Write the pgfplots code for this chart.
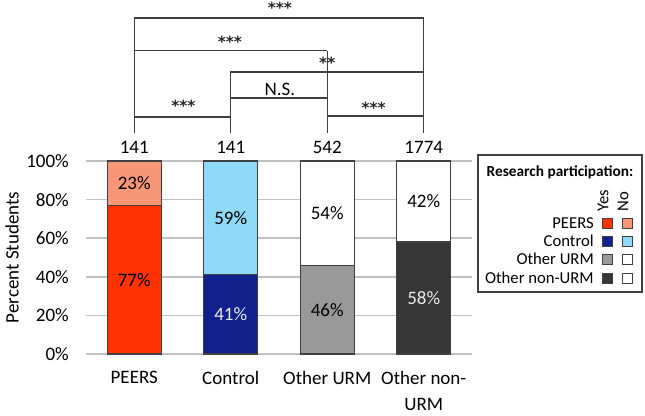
\documentclass[border=0pt]{standalone}
\usepackage{pgfplots}
\pgfplotsset{compat=1.18}
\usepackage{fontspec}
\setmainfont{Carlito}
\newfontfamily\astfont{DejaVu Sans}
\definecolor{peersY}{RGB}{255,51,0}
\definecolor{peersN}{RGB}{248,150,120}
\definecolor{ctrlY}{RGB}{16,32,140}
\definecolor{ctrlN}{RGB}{142,217,247}
\definecolor{urmY}{RGB}{153,153,153}
\definecolor{nonY}{RGB}{54,54,54}
\definecolor{bord}{RGB}{64,64,64}
\definecolor{gridc}{RGB}{191,191,191}
\tikzset{lab/.style={font=\fontsize{14.25}{18}\selectfont}, st/.style={font=\fontsize{11.5}{13}\astfont\bfseries, inner sep=1pt, text=black!85}, br/.style={draw=bord, line width=1.1pt},
 lg/.style={font=\fontsize{12.5}{14}\selectfont}}
\begin{document}
\begin{tikzpicture}
\useasboundingbox (0,0) rectangle (483.75pt,311.25pt);
\begin{axis}[
  at={(64.5pt,45.75pt)}, anchor=south west,
  scale only axis, width=289.5pt, height=144.75pt,
  ybar stacked, bar width=40.5pt,
  xmin=-0.5, xmax=3.5, ymin=0, ymax=100,
  xtick={0,1,2,3},
  xticklabels={PEERS,Control,Other URM,{Other non-\\URM}},
  ytick={0,20,40,60,80,100},
  yticklabel={\pgfmathprintnumber{\tick}\%},
  /pgf/number format/assume math mode=true,
  axis line style={draw=none},
  tick style={draw=none},
  ymajorgrids, major grid style={gridc, line width=1.1pt},
  clip=false,
  ticklabel style={font=\fontsize{14.25}{18}\selectfont},
  yticklabel style={anchor=east, inner sep=0pt, xshift=-12.75pt},
  xticklabel style={anchor=north, inner sep=0pt, yshift=-13pt, align=center, font=\fontsize{14.25}{19.5}\selectfont},
  ylabel={Percent Students},
  every axis y label/.style={at={(rel axis cs:0,0.5)}, xshift=-55.5pt, rotate=90, anchor=center, font=\fontsize{14.25}{18}\selectfont},
]
% Yes
\addplot[draw=bord, line width=0.9pt, fill=peersY] coordinates {(0,77) (1,0) (2,0) (3,0)};
\addplot[draw=bord, line width=0.9pt, fill=ctrlY] coordinates {(0,0) (1,41) (2,0) (3,0)};
\addplot[draw=bord, line width=0.9pt, fill=urmY] coordinates {(0,0) (1,0) (2,46) (3,0)};
\addplot[draw=bord, line width=0.9pt, fill=nonY] coordinates {(0,0) (1,0) (2,0) (3,58)};
% No
\addplot[draw=bord, line width=0.9pt, fill=peersN] coordinates {(0,23) (1,0) (2,0) (3,0)};
\addplot[draw=bord, line width=0.9pt, fill=ctrlN] coordinates {(0,0) (1,59) (2,0) (3,0)};
\addplot[draw=bord, line width=0.9pt, fill=white] coordinates {(0,0) (1,0) (2,54) (3,0)};
\addplot[draw=bord, line width=0.9pt, fill=white] coordinates {(0,0) (1,0) (2,0) (3,42)};
% segment label anchors
\coordinate (pY) at (axis cs:0,38.5);
\coordinate (pN) at (axis cs:0,88.5);
\coordinate (cY) at (axis cs:1,20.5);
\coordinate (cN) at (axis cs:1,70.5);
\coordinate (uY) at (axis cs:2,23);
\coordinate (uN) at (axis cs:2,73);
\coordinate (nY) at (axis cs:3,29);
\coordinate (nN) at (axis cs:3,79);
% sample sizes
\node[lab] at (axis cs:0,107.3) {141};
\node[lab] at (axis cs:1,107.3) {141};
\node[lab] at (axis cs:2,107.3) {542};
\node[lab] at (axis cs:3,107.3) {1774};
% significance brackets
\draw[br] (axis cs:0,114.5) -- (axis cs:0,174.1) -- (axis cs:3,174.1) -- (axis cs:3,114.5);
\draw[br] (axis cs:0,157.2) -- (axis cs:2,157.2);
\draw[br] (axis cs:2,114.5) -- (axis cs:2,157.2);
\draw[br] (axis cs:1,114.5) -- (axis cs:1,146.1) -- (axis cs:3,146.1);
\draw[br] (axis cs:1,132.6) -- (axis cs:2,132.6);
\draw[br] (axis cs:0,122.8) -- (axis cs:1,122.8);
\draw[br] (axis cs:2,123.3) -- (axis cs:3,123.3);
\node[st] at (axis cs:1.51,179.5) {***};
\node[st] at (axis cs:0.99,162) {***};
\node[st] at (axis cs:2.0,151) {**};
\node[lab] at (axis cs:1.51,137.3) {N.S.};
\node[st] at (axis cs:0.51,128.5) {***};
\node[st] at (axis cs:2.48,127.5) {***};
\end{axis}
\node[lab] at (pY) {77\%};
\node[lab] at (pN) {23\%};
\node[lab, text=white!92!black] at (cY) {41\%};
\node[lab] at (cN) {59\%};
\node[lab] at (uY) {46\%};
\node[lab] at (uN) {54\%};
\node[lab, text=white!92!black] at (nY) {58\%};
\node[lab] at (nN) {42\%};
% legend
\draw[bord, line width=0.9pt] (358.5pt,92.25pt) rectangle (481.5pt,195pt);
\node[font=\fontsize{11.5}{13}\selectfont\bfseries] at (420pt,182.25pt) {Research participation:};
\node[lg, rotate=90, anchor=west, inner sep=0pt] at (452.25pt,152.25pt) {Yes};
\node[lg, rotate=90, anchor=west, inner sep=0pt] at (467.25pt,152.25pt) {No};
\node[lg, anchor=east, inner sep=0pt] at (445.5pt,144pt) {PEERS};
\node[lg, anchor=east, inner sep=0pt] at (445.5pt,130.5pt) {Control};
\node[lg, anchor=east, inner sep=0pt] at (445.5pt,117pt) {Other URM};
\node[lg, anchor=east, inner sep=0pt] at (445.5pt,102.75pt) {Other non-URM};
\filldraw[draw=bord, line width=0.7pt, fill=peersY] (451.5pt,140.25pt) rectangle (459pt,147.75pt);
\filldraw[draw=bord, line width=0.7pt, fill=peersN] (466.5pt,140.25pt) rectangle (474pt,147.75pt);
\filldraw[draw=bord, line width=0.7pt, fill=ctrlY] (451.5pt,126.75pt) rectangle (459pt,134.25pt);
\filldraw[draw=bord, line width=0.7pt, fill=ctrlN] (466.5pt,126.75pt) rectangle (474pt,134.25pt);
\filldraw[draw=bord, line width=0.7pt, fill=urmY] (451.5pt,113.25pt) rectangle (459pt,120.75pt);
\filldraw[draw=bord, line width=0.7pt, fill=white] (466.5pt,113.25pt) rectangle (474pt,120.75pt);
\filldraw[draw=bord, line width=0.7pt, fill=nonY] (451.5pt,99pt) rectangle (459pt,106.5pt);
\filldraw[draw=bord, line width=0.7pt, fill=white] (466.5pt,99pt) rectangle (474pt,106.5pt);
\end{tikzpicture}
\end{document}
